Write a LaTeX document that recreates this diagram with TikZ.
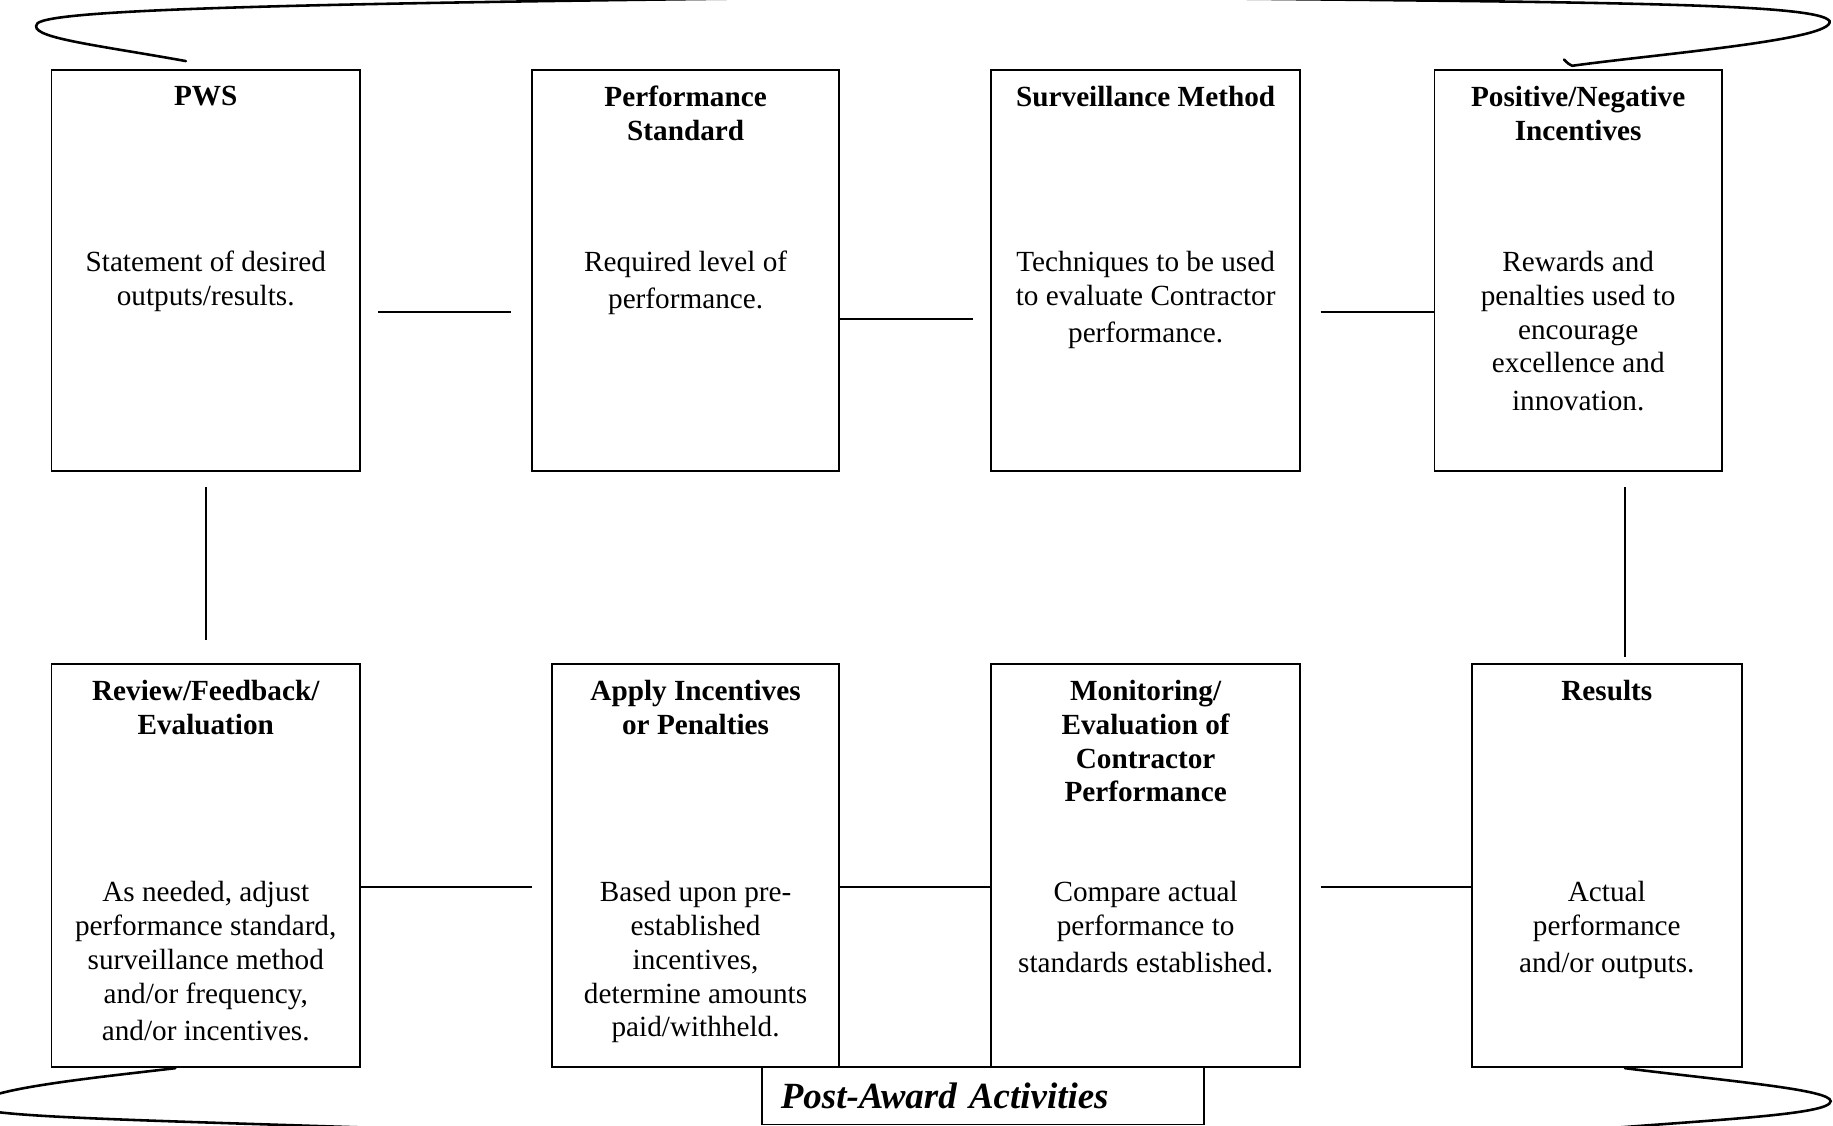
\documentclass[tikz,border=0pt]{standalone}
\usepackage{fontspec}
\setmainfont{Liberation Serif}
\usetikzlibrary{positioning}

\begin{document}
\begin{tikzpicture}[
    x=0.5pt, y=-0.5pt,
    font=\fontsize{12.5}{14.5}\selectfont,
    box/.style    ={draw, line width=0.75pt, inner sep=0pt,
                    minimum height=171.5pt},
    lowbox/.style ={box, minimum height=172.5pt},
    head/.style   ={inner sep=0pt, align=center, font=\fontsize{12.5}{14.5}\selectfont\bfseries},
    body/.style   ={inner sep=0pt, align=center},
    link/.style   ={line width=0.75pt},
    scroll/.style ={line width=1.1pt, line cap=round},
]
\useasboundingbox (0,0) rectangle (1568,963);

% =========================================================
% Top row: planning
% =========================================================
\node[box, minimum width=132pt]   (pws)    at (176,231.5)  {};
\node[box, minimum width=131.5pt] (std)    at (586.5,231.5) {};
\node[box, minimum width=132pt]   (surv)   at (980,231.5)  {};
\node[box, minimum width=123pt]   (incent) at (1350,231.5) {};

\node[head, below=7pt of pws.north]    (pws-h)    {PWS};
\node[head, below=7pt of std.north]    (std-h)    {Performance\\Standard};
\node[head, below=7pt of surv.north]   (surv-h)   {Surveillance Method};
\node[head, below=7pt of incent.north] (incent-h) {Positive/Negative\\Incentives};

\node[body, below=77.5pt of pws.north]    (pws-b)
    {Statement of desired\\outputs/results.};
\node[body, below=77.5pt of std.north]    (std-b)
    {Required level of\\[1.5pt]performance.};
\node[body, below=77.5pt of surv.north]   (surv-b)
    {Techniques to be used\\to evaluate Contractor\\[1.5pt]performance.};
\node[body, below=77.5pt of incent.north] (incent-b)
    {Rewards and\\penalties used to\\encourage\\excellence and\\[1.5pt]innovation.};

% =========================================================
% Bottom row: post-award
% =========================================================
\node[lowbox, minimum width=132pt]   (review)  at (176,740.5)    {};
\node[lowbox, minimum width=123pt]   (apply)   at (595,740.5)    {};
\node[lowbox, minimum width=132pt]   (monitor) at (980,740.5)    {};
\node[lowbox, minimum width=115.5pt] (results) at (1374.5,740.5) {};

\node[head, below=7pt of review.north]  (review-h)  {Review/Feedback/\\Evaluation};
\node[head, below=7pt of apply.north]   (apply-h)   {Apply Incentives\\or Penalties};
\node[head, below=7pt of monitor.north] (monitor-h) {Monitoring/\\Evaluation of\\Contractor\\Performance};
\node[head, below=7pt of results.north] (results-h) {Results};

\node[body, below=93pt of review.north]  (review-b)
    {As needed, adjust\\performance standard,\\surveillance method\\and/or frequency,\\[1.5pt]and/or incentives.};
\node[body, below=93pt of apply.north]   (apply-b)
    {Based upon pre-\\established\\incentives,\\determine amounts\\paid/withheld.};
\node[body, below=93pt of monitor.north] (monitor-b)
    {Compare actual\\performance to\\[1.5pt]standards established.};
\node[body, below=93pt of results.north] (results-b)
    {Actual\\performance\\[1.5pt]and/or outputs.};

% Post-award banner
\node[box, minimum height=24.5pt, text width=173pt, inner xsep=8pt,
      align=left, font=\fontsize{15.8}{17}\selectfont\bfseries\itshape]
    (post) at (841,937.5) {Post-Award Activities};

% =========================================================
% Connectors
% =========================================================
\draw[link, shorten <=7.5pt, shorten >=8.5pt]
    ([yshift=-17.75pt]pws.east) -- ([yshift=-17.75pt]std.west);
\draw[link, shorten >=7.5pt]
    ([yshift=-20.75pt]std.east) -- ([yshift=-20.75pt]surv.west);
\draw[link, shorten <=8.5pt]
    ([yshift=-17.75pt]surv.east) -- ([yshift=-17.75pt]incent.west);

\draw[link, shorten <=6.5pt, shorten >=10pt] (pws.south) -- (review.north);
\draw[link, shorten <=6.5pt, shorten >=2.5pt]
    ([xshift=20pt]incent.south) -- ([xshift=7.75pt]results.north);

\draw[link, shorten >=8pt]
    ([yshift=-9.25pt]review.east) -- ([yshift=-9.25pt]apply.west);
\draw[link]
    ([yshift=-9.25pt]apply.east) -- ([yshift=-9.25pt]monitor.west);
\draw[link, shorten <=8.5pt]
    ([yshift=-9.25pt]monitor.east) -- ([yshift=-9.25pt]results.west);

% =========================================================
% Scroll curves round the cycle
% =========================================================
\begin{scope}
\clip (0,0) rectangle (1568,963);
\draw[scroll] ([xshift=-8.5pt,yshift=3.5pt]pws.north)
    .. controls (80,38) and (22,32) .. (32,20)
    .. controls (45,8) and (250,3) .. (700,-2) -- (980,-2)
    .. controls (1350,2) and (1555,2) .. (1565,18)
    .. controls (1570,34) and (1420,46) .. ([xshift=-2.5pt,yshift=1.5pt]incent.north)
    .. controls (1342,55) .. (1338,51);
\draw[scroll] ([xshift=-13pt]review.south)
    .. controls (80,922) and (-20,932) .. (-20,946)
    .. controls (-20,956) and (120,958) .. (420,968);
\draw[scroll] ([xshift=7.75pt]results.south)
    .. controls (1480,925) and (1566,932) .. (1566,942)
    .. controls (1566,954) and (1460,958) .. (1340,968);
\end{scope}
\end{tikzpicture}
\end{document}
